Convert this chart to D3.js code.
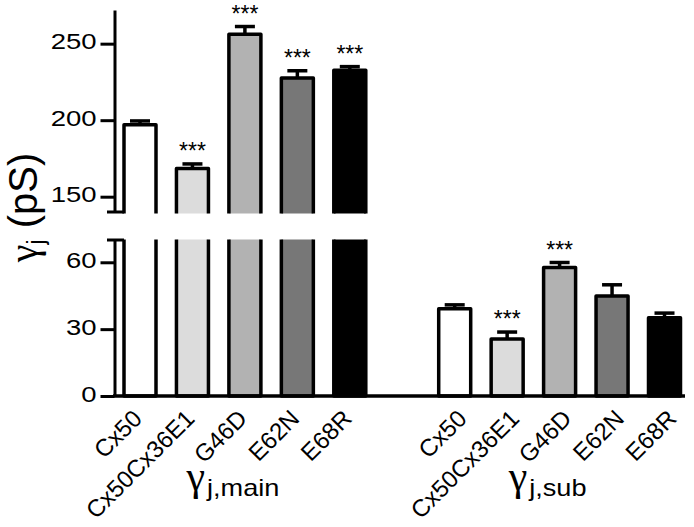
<!DOCTYPE html>
<html><head><meta charset="utf-8">
<script src="https://cdn.jsdelivr.net/npm/d3@7"></script>
<style>body{margin:0;background:#fff} svg{display:block}</style>
</head><body><svg id="chart" width="694" height="527"></svg>
<script>
const categories = ["Cx50","Cx50Cx36E1","G46D","E62N","E68R"];
const mainMeans = [197, 168.4, 256.2, 227.6, 232.7];
const mainErrors = [2.5, 3, 5, 4.7, 2.3];
const mainSignificant = [false, true, true, true, true];
const subMeans = [39.2, 25.6, 57.7, 44.9, 35.1];
const subErrors = [1.7, 3.1, 2.2, 5, 2.1];
const subSignificant = [false, true, true, false, false];
const barColors = ["#ffffff","#dcdcdc","#b2b2b2","#777777","#000000"];
const upperTicks = [150, 200, 250];
const lowerTicks = [0, 30, 60];
const groupNames = ["main", "sub"];

const svg = d3.select("#chart");
const SANS = "'Liberation Sans', Arial, sans-serif";
const SERIF = "'Liberation Serif', 'Times New Roman', serif";
const K = 1.25; // horizontal text stretch

const keys = [];
groupNames.forEach((g, gi) => {
  if (gi > 0) keys.push("gap");
  categories.forEach(c => keys.push(g + "|" + c));
});
const x = d3.scalePoint().domain(keys).range([140, 664.5]);
const yUpper = d3.scaleLinear().domain([140, 272]).range([212, 10]);
const yLower = d3.scaleLinear().domain([0, 70]).range([396, 240]);

const defs = svg.append("defs");
defs.append("clipPath").attr("id","clipU").append("rect")
  .attr("x",0).attr("y",0).attr("width",694).attr("height",yUpper(140)+1.5);
defs.append("clipPath").attr("id","clipL").append("rect")
  .attr("x",0).attr("y",yLower(70)-0.5).attr("width",694).attr("height",300);

const barW = 32, SW = 3.5, capW = 20;

function errorBar(g, cx, yTop, yErr) {
  g.append("line").attr("x1",cx).attr("x2",cx).attr("y1",yTop).attr("y2",yErr)
    .attr("stroke","#000").attr("stroke-width",SW);
  g.append("line").attr("x1",cx-capW/2).attr("x2",cx+capW/2).attr("y1",yErr).attr("y2",yErr)
    .attr("stroke","#000").attr("stroke-width",SW);
}
function stars(g, cx, yErr) {
  g.append("text").attr("transform",`translate(${cx},${yErr-5})`)
    .attr("text-anchor","middle").attr("font-family",SANS).attr("font-size",23)
    .text("***");
}

const gBars = svg.append("g");
// main group (broken axis)
categories.forEach((c, i) => {
  const cx = x("main|" + c);
  const v = mainMeans[i], e = mainErrors[i];
  errorBar(gBars, cx, yUpper(v), yUpper(v + e));
  gBars.append("rect").attr("clip-path","url(#clipU)")
    .attr("x",cx-barW/2).attr("y",yUpper(v)).attr("width",barW)
    .attr("height",yUpper(140)+10-yUpper(v))
    .attr("fill",barColors[i]).attr("stroke","#000").attr("stroke-width",SW)
    .attr("stroke-linejoin","round");
  gBars.append("rect").attr("clip-path","url(#clipL)")
    .attr("x",cx-barW/2).attr("y",yLower(70)-10).attr("width",barW)
    .attr("height",yLower(0)-yLower(70)+10)
    .attr("fill",barColors[i]).attr("stroke","#000").attr("stroke-width",SW)
    .attr("stroke-linejoin","round");
  if (mainSignificant[i]) stars(gBars, cx, yUpper(v + e));
});
// sub group
categories.forEach((c, i) => {
  const cx = x("sub|" + c);
  const v = subMeans[i], e = subErrors[i];
  errorBar(gBars, cx, yLower(v), yLower(v + e));
  gBars.append("rect")
    .attr("x",cx-barW/2).attr("y",yLower(v)).attr("width",barW)
    .attr("height",yLower(0)-yLower(v))
    .attr("fill",barColors[i]).attr("stroke","#000").attr("stroke-width",SW)
    .attr("stroke-linejoin","round");
  if (subSignificant[i]) stars(gBars, cx, yLower(v + e));
});

// x baseline
svg.append("line").attr("x1",113).attr("x2",685).attr("y1",yLower(0)).attr("y2",yLower(0))
  .attr("stroke","#000").attr("stroke-width",3.5);

// y axes
function styleYAxis(g) {
  g.select(".domain").attr("stroke","#000").attr("stroke-width",3);
  g.selectAll(".tick line").attr("stroke","#000").attr("stroke-width",3);
  g.selectAll(".tick text").attr("x",0).attr("dy","0.23em")
    .attr("transform",`translate(-18,0) scale(${K},1)`)
    .attr("font-family",SANS).attr("font-size",22).attr("fill","#000");
}
const AX = 114.5;
svg.append("g").attr("transform",`translate(${AX},0)`)
  .call(d3.axisLeft(yUpper).tickValues(upperTicks).tickSize(14).tickSizeOuter(0).tickPadding(4))
  .call(styleYAxis);
svg.append("g").attr("transform",`translate(${AX},0)`)
  .call(d3.axisLeft(yLower).tickValues(lowerTicks).tickSize(14).tickSizeOuter(0).tickPadding(4))
  .call(styleYAxis);
// break caps
[yUpper(140), yLower(70)].forEach(yy => {
  svg.append("line").attr("x1",107).attr("x2",124).attr("y1",yy).attr("y2",yy)
    .attr("stroke","#000").attr("stroke-width",3);
});

// x tick labels
groupNames.forEach((g, gi) => {
  const dx = gi === 0 ? 3 : 13;
  const ax = svg.append("g").attr("transform","translate(0,420)")
    .call(d3.axisBottom(x).tickValues(categories.map(c => g + "|" + c))
      .tickFormat(k => k.split("|")[1]).tickSize(0));
  ax.select(".domain").remove();
  ax.selectAll(".tick text").attr("x",0).attr("y",0).attr("dy",0)
    .attr("text-anchor","end")
    .attr("transform",`translate(${dx},0) rotate(-45)`)
    .attr("font-family",SANS).attr("font-size",24).attr("fill","#000");
});

// group labels
groupNames.forEach(g => {
  const cx = d3.mean(categories, c => x(g + "|" + c));
  const lg = svg.append("g");
  const gam = lg.append("text").attr("x",0).attr("y",490)
    .attr("font-family",SERIF).attr("font-size",42).text("γ");
  const gw = gam.node().getComputedTextLength();
  const sub = lg.append("text").attr("transform",`translate(${gw+2},496) scale(1.18,1)`)
    .attr("font-family",SANS).attr("font-size",23).text("j," + g);
  const tw = gw + 2 + sub.node().getComputedTextLength() * 1.18;
  lg.attr("transform",`translate(${cx - 12 - tw/2},0)`);
});

// y label
const yl = svg.append("text").attr("transform","translate(37,207.5) rotate(-90)")
  .attr("text-anchor","middle").attr("font-family",SANS).attr("font-size",40);
yl.append("tspan").attr("font-family",SERIF).text("γ");
yl.append("tspan").attr("font-size",23).attr("dy",7).text("j");
yl.append("tspan").attr("dy",-7).text(" (pS)");
</script></body></html>
